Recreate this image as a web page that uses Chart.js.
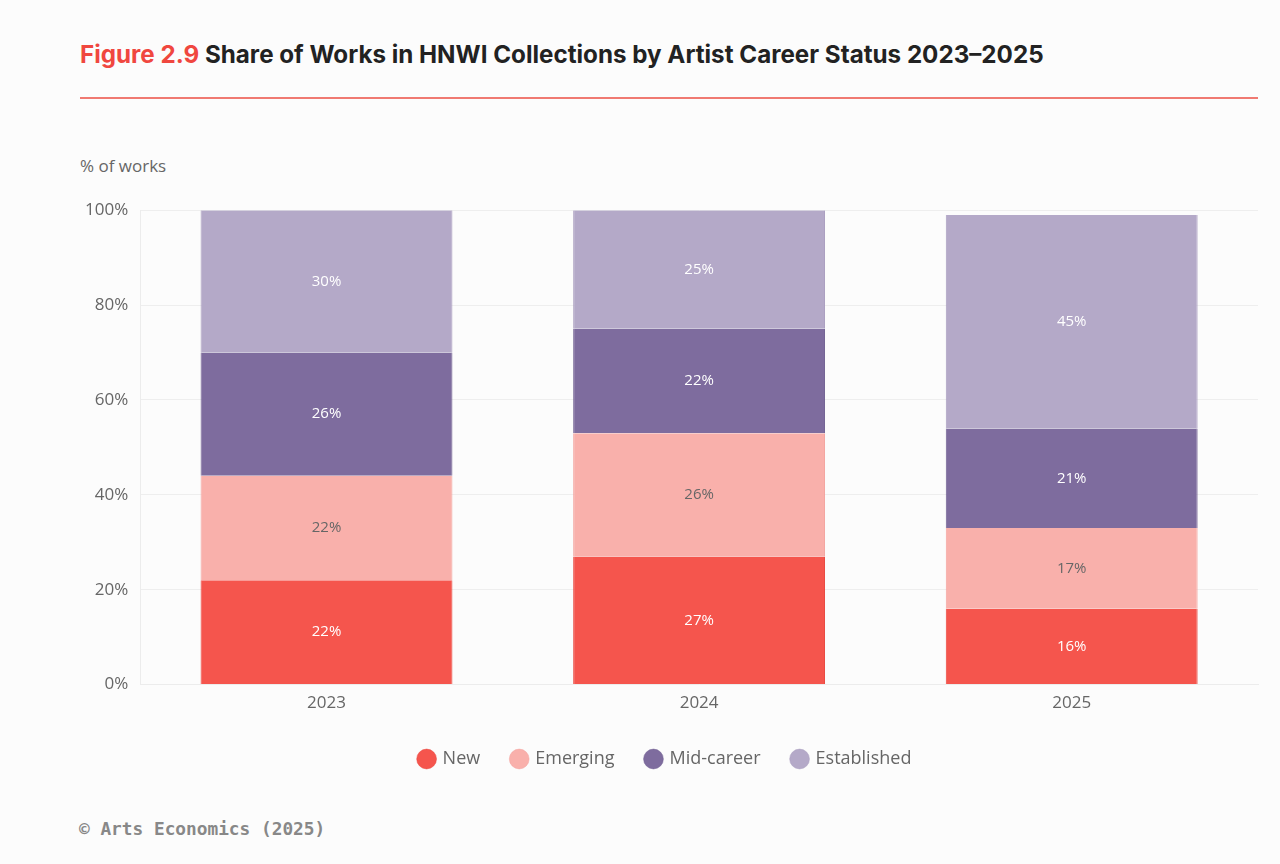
<!DOCTYPE html>
<html>
<head>
<meta charset="utf-8">
<script src="https://cdn.jsdelivr.net/npm/chart.js@4"></script>
<style>
  html, body { margin: 0; padding: 0; background: #fcfcfc; width: 1280px; height: 864px; overflow: hidden; }
  #title { position: absolute; left: 80px; top: 40px; font-family: Inter, "Open Sans", sans-serif; font-weight: 700; font-size: 24.2px; color: #222; }
  #title span { color: #f0473f; }
  #rule { position: absolute; left: 80px; top: 97px; width: 1178px; height: 2px; background: #f07a72; }
  #unit { position: absolute; left: 80px; top: 154px; font-family: "Open Sans", sans-serif; font-size: 17px; color: #666; }
  #footer { position: absolute; left: 79px; top: 818px; font-family: "DejaVu Sans Mono", monospace; font-weight: 700; font-size: 17.8px; color: #888; }
  #wrap { position: absolute; left: 0; top: 188px; width: 1280px; height: 604px; }
</style>
</head>
<body>
<div id="title"><span>Figure 2.9</span> Share of Works in HNWI Collections by Artist Career Status 2023–2025</div>
<div id="rule"></div>
<div id="unit">% of works</div>
<div id="wrap"><canvas id="chart"></canvas></div>
<div id="footer">© Arts Economics (2025)</div>
<script>
// Data
const years = ['2023', '2024', '2025'];
const newArtists = [22, 27, 16];
const emerging = [22, 26, 17];
const midCareer = [26, 22, 21];
const established = [30, 25, 45];
const yTicks = [0, 20, 40, 60, 80, 100];

// Draw the percentage inside each segment
const valueLabels = {
    id: 'valueLabels',
    afterDatasetsDraw(chart) {
        const ctx = chart.ctx;
        ctx.save();
        ctx.font = '15px "Open Sans", sans-serif';
        ctx.textAlign = 'center';
        ctx.textBaseline = 'middle';
        chart.data.datasets.forEach((ds, i) => {
            const meta = chart.getDatasetMeta(i);
            meta.data.forEach((bar, j) => {
                const y = (bar.y + bar.base) / 2;
                ctx.fillStyle = ds.labelColor;
                ctx.fillText(ds.data[j] + '%', bar.x, y);
            });
        });
        ctx.restore();
    }
};

const ctx = document.getElementById('chart').getContext('2d');
new Chart(ctx, {
    type: 'bar',
    data: {
        labels: years,
        datasets: [
            { label: 'New', data: newArtists, backgroundColor: '#f5554d', borderColor: '#e8433b', labelColor: '#ffffff' },
            { label: 'Emerging', data: emerging, backgroundColor: '#f9b0ab', borderColor: '#f3a19c', labelColor: '#666666' },
            { label: 'Mid-career', data: midCareer, backgroundColor: '#7e6c9e', borderColor: '#6f5d90', labelColor: '#ffffff' },
            { label: 'Established', data: established, backgroundColor: '#b4a9c8', borderColor: '#a89cbe', labelColor: '#ffffff' },
        ].map(d => Object.assign(d, {
            borderWidth: { left: 1, right: 1, top: 0, bottom: 0 },
            borderSkipped: false,
            categoryPercentage: 1,
            barPercentage: 0.676,
        })),
    },
    options: {
        responsive: true,
        maintainAspectRatio: false,
        animation: false,
        layout: { padding: { left: 73, right: 22, top: 8, bottom: 14 } },
        plugins: {
            legend: {
                position: 'bottom',
                labels: {
                    usePointStyle: true,
                    pointStyle: 'circle',
                    boxWidth: 14,
                    boxHeight: 14,
                    padding: 32,
                    color: '#666',
                    font: { family: '"Open Sans", sans-serif', size: 18 },
                },
            },
            tooltip: { enabled: false },
        },
        scales: {
            x: {
                stacked: true,
                grid: { display: false },
                border: { color: '#ececec' },
                ticks: { color: '#666', font: { family: '"Open Sans", sans-serif', size: 17 }, padding: 0 },
                afterFit: axis => { axis.height += 5; },
            },
            y: {
                stacked: true,
                min: 0,
                max: 100,
                afterBuildTicks: axis => { axis.ticks = yTicks.map(v => ({ value: v })); },
                grid: { color: '#eeeeee', drawTicks: false },
                border: { color: '#ececec' },
                ticks: {
                    color: '#666',
                    padding: 12,
                    font: { family: '"Open Sans", sans-serif', size: 17 },
                    callback: v => v + '%',
                },
            },
        },
    },
    plugins: [valueLabels],
});
</script>
</body>
</html>
